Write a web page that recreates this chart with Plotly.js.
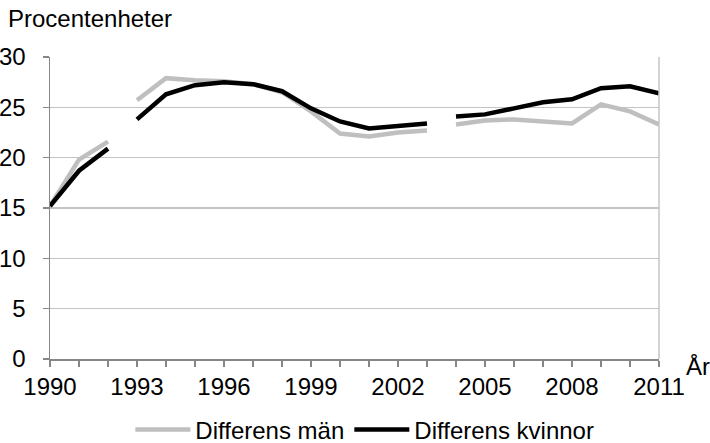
<!DOCTYPE html>
<html>
<head>
<meta charset="utf-8">
<script src="https://cdn.plot.ly/plotly-3.0.1.min.js"></script>
<style>html,body{margin:0;padding:0;background:#fff;}#chart{width:710px;height:443px;}</style>
</head>
<body>
<div id="chart"></div>
<script>
// Years; null marks a break in the series
const years = [1990, 1991, 1992, null, 1993, 1994, 1995, 1996, 1997, 1998, 1999, 2000, 2001, 2002, 2003, null, 2004, 2005, 2006, 2007, 2008, 2009, 2010, 2011];
const men   = [15.2, 19.8, 21.6, null, 25.7, 27.9, 27.7, 27.6, 27.3, 26.5, 24.6, 22.4, 22.1, 22.5, 22.7, null, 23.3, 23.7, 23.8, 23.6, 23.4, 25.3, 24.6, 23.3];
const women = [15.2, 18.7, 20.9, null, 23.8, 26.3, 27.2, 27.5, 27.3, 26.6, 24.9, 23.6, 22.9, 23.2, 23.4, null, 24.1, 24.3, 24.9, 25.5, 25.8, 26.9, 27.1, 26.4];
const seriesNames = ['Differens män', 'Differens kvinnor'];
const yTitle = 'Procentenheter';
const xTitle = 'År';

const FONT = '"Liberation Sans", Arial, sans-serif';
const FS = 24;

const traces = [
  {x: years, y: men, name: seriesNames[0], type: 'scatter', mode: 'lines',
   line: {color: '#bfbfbf', width: 4.5}, connectgaps: false},
  {x: years, y: women, name: seriesNames[1], type: 'scatter', mode: 'lines',
   line: {color: '#000000', width: 4.5}, connectgaps: false}
];

const layout = {
  width: 710, height: 443,
  margin: {l: 50, r: 51, t: 57, b: 84, pad: 0},
  paper_bgcolor: '#fff', plot_bgcolor: '#fff',
  font: {family: FONT, size: FS, color: '#000'},
  showlegend: true,
  title: {text: yTitle, x: 8/710, xanchor: 'left', xref: 'container',
          y: 1 - 18.5/443, yanchor: 'middle', yref: 'container',
          font: {family: FONT, size: FS, color: '#000'}},
  xaxis: {
    range: [1990, 2011], tick0: 1990, dtick: 3, tickmode: 'linear',
    showgrid: false, zeroline: false,
    showline: true, linecolor: '#868686', linewidth: 1.5,
    ticks: 'outside', ticklen: 6, tickcolor: '#868686', tickwidth: 1.5,
    minor: {dtick: 1, tick0: 1990, ticks: 'outside', ticklen: 6, tickcolor: '#868686', tickwidth: 1.5, showgrid: false},
    tickfont: {family: FONT, size: FS, color: '#000'},
    fixedrange: true
  },
  yaxis: {
    range: [0, 30], tick0: 0, dtick: 5, tickmode: 'linear',
    showgrid: true, gridcolor: '#c4c4c4', gridwidth: 1.5,
    zeroline: false,
    showline: true, linecolor: '#868686', linewidth: 1.5,
    ticks: 'outside', ticklen: 6, tickcolor: '#868686', tickwidth: 1.5,
    ticklabelstandoff: 12,
    tickfont: {family: FONT, size: FS, color: '#000'},
    fixedrange: true
  },
  shapes: [
    {type: 'line', xref: 'paper', yref: 'paper', x0: 1, x1: 1, y0: 0, y1: 1,
     line: {color: '#c4c4c4', width: 1.5}}
  ],
  annotations: [
    {text: xTitle, xref: 'paper', yref: 'paper', x: 1, y: 0, xanchor: 'left', yanchor: 'middle',
     xshift: 25, yshift: -7, showarrow: false, font: {family: FONT, size: FS, color: '#000'}}
  ],
  legend: {
    orientation: 'h', x: 0.517, xanchor: 'center', xref: 'paper',
    y: 1 - 430/443, yanchor: 'middle', yref: 'container',
    itemwidth: 55,
    font: {family: FONT, size: FS, color: '#000'},
    bgcolor: 'rgba(0,0,0,0)'
  }
};

Plotly.newPlot('chart', traces, layout, {displayModeBar: false, staticPlot: true});
</script>
</body>
</html>
